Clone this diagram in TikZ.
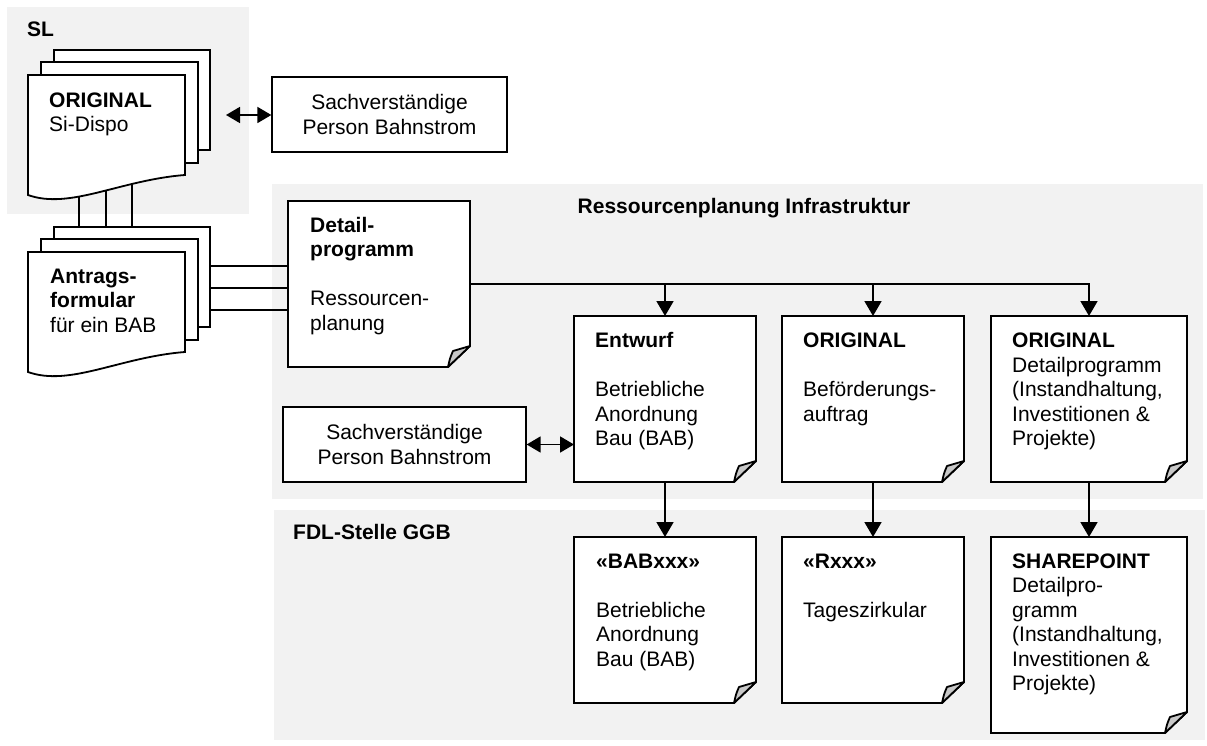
\documentclass[tikz,border=0pt]{standalone}
\usepackage{fontspec}
\setmainfont{Liberation Sans}
\usetikzlibrary{arrows.meta}
\definecolor{panelgray}{RGB}{242,242,242}
\definecolor{foldgray}{RGB}{200,200,200}
\tikzset{
  area/.style={draw=none, inner sep=0pt, outer sep=0pt},
  docline/.style={line width=1.8pt, draw=black, line join=miter},
  conn/.style={line width=1.8pt},
  arr/.style={conn, -{Triangle[length=15pt,width=17pt]}},
  darr/.style={conn, {Triangle[length=14pt,width=16pt]}-{Triangle[length=14pt,width=16pt]}},
  txt/.style={anchor=north west, inner sep=0pt, align=left},
  lbl/.style={anchor=base west, inner sep=0pt, font=\fontsize{21}{24.5}\selectfont\bfseries},
  plainbox/.style={draw, line width=1.3pt, fill=white, align=center, inner sep=0pt},
}
\newcommand\docframe[1]{%
  \draw[docline, fill=white] (#1.north west) -- (#1.north east) -- ([yshift=21pt]#1.south east)
     -- ([xshift=-22pt]#1.south east) -- (#1.south west) -- cycle;
  \draw[docline, fill=foldgray, line join=round] ([xshift=-22pt]#1.south east)
     .. controls ([xshift=-20pt,yshift=9pt]#1.south east) .. ([xshift=-17pt,yshift=16pt]#1.south east)
     -- ([yshift=21pt]#1.south east) -- cycle;}
\newcommand\sheetstack{%
  \draw[docline, fill=white] (54,150) -- (54,50) -- (210,50) -- (210,150) -- cycle;
  \draw[docline, fill=white] (41,163) -- (41,62) -- (198,62) -- (198,163) -- cycle;
  \draw[docline, fill=white] (28,75) -- (185,75) -- (185,175) .. controls (120,180) and (70,210) .. (28,195) -- cycle;}
\begin{document}
\begin{tikzpicture}[x=1pt,y=-1pt, every node/.style={font=\fontsize{21}{24.5}\selectfont}]
\useasboundingbox (0,0) rectangle (1207,746);
% panels
\fill[panelgray] (7,7) rectangle (249,214);
\fill[panelgray] (272,184) rectangle (1203,499);
\fill[panelgray] (274,510) rectangle (1205,740);
\node[lbl] (sl) at (27,37) {SL};
\node[lbl, anchor=base] (rit) at (744,214) {Ressourcenplanung Infrastruktur};
\node[lbl] (fdl) at (293,539) {FDL-Stelle GGB};
% document areas
\node[area, minimum width=182pt, minimum height=166pt] (detail) at (379,284) {};
\node[area, minimum width=182pt, minimum height=166pt] (entw) at (665,399) {};
\node[area, minimum width=182pt, minimum height=166pt] (befo) at (873,399) {};
\node[area, minimum width=196pt, minimum height=166pt] (orig) at (1089,399) {};
\node[area, minimum width=182pt, minimum height=166pt] (bab) at (665,620) {};
\node[area, minimum width=182pt, minimum height=166pt] (rxxx) at (873,620) {};
\node[area, minimum width=196pt, minimum height=196pt] (share) at (1089,635) {};
\node[area, minimum width=157pt, minimum height=120pt] (sidispo) at (106.5,135) {};
\node[area, minimum width=157pt, minimum height=120pt] (antrag) at (106.5,312) {};
\coordinate (antrag2) at (41,239);
\coordinate (antrag3) at (54,227);
% left connectors (drawn under the sheets)
\coordinate (v1) at (79,185);
\coordinate (v2) at (106,185);
\coordinate (v3) at (132,170);
\draw[conn] (v1) -- (v1 |- antrag.north);
\draw[conn] (v2) -- (v2 |- antrag2);
\draw[conn] (v3) -- (v3 |- antrag3);
\coordinate (h1) at (200,266);
\coordinate (h2) at (190,288);
\coordinate (h3) at (175,310);
\draw[conn] (h1) -- (h1 -| detail.west);
\draw[conn] (h2) -- (h2 -| detail.west);
\draw[conn] (h3) -- (h3 -| detail.west);
% sheet stacks
\sheetstack
\begin{scope}[shift={(0,177)}]\sheetstack\end{scope}
\node[txt] (sidispo-t) at ([xshift=21pt,yshift=-14.85pt]sidispo.north west) {\strut\textbf{ORIGINAL}\\Si-Dispo};
\node[txt] (antrag-t) at ([xshift=22pt,yshift=-13.85pt]antrag.north west) {\strut\textbf{Antrags-}\\\textbf{formular}\\für ein BAB};
% plain boxes
\node[plainbox, minimum width=235pt, minimum height=75pt] (sv1) at (389.5,114.5) {Sachverständige\\Person Bahnstrom};
\node[plainbox, minimum width=243pt, minimum height=75pt] (sv2) at (404.5,444.5) {Sachverständige\\Person Bahnstrom};
% document frames
\docframe{detail}
\docframe{entw}
\docframe{befo}
\docframe{orig}
\docframe{bab}
\docframe{rxxx}
\docframe{share}
% texts
\node[txt] (detail-t) at ([xshift=22pt,yshift=-13.85pt]detail.north west) {\strut\textbf{Detail-}\\\textbf{programm}\\[24.5pt]Ressourcen-\\planung};
\node[txt] (entw-t) at ([xshift=21pt,yshift=-14.35pt]entw.north west) {\strut\textbf{Entwurf}\\[24.5pt]Betriebliche\\Anordnung\\Bau (BAB)};
\node[txt] (befo-t) at ([xshift=21pt,yshift=-14.35pt]befo.north west) {\strut\textbf{ORIGINAL}\\[24.5pt]Beförderungs-\\auftrag};
\node[txt] (orig-t) at ([xshift=21pt,yshift=-14.35pt]orig.north west) {\strut\textbf{ORIGINAL}\\Detailprogramm\\(Instandhaltung,\\Investitionen \&\\Projekte)};
\node[txt] (bab-t) at ([xshift=22pt,yshift=-13.85pt]bab.north west) {\strut\textbf{«BABxxx»}\\[24.5pt]Betriebliche\\Anordnung\\Bau (BAB)};
\node[txt] (rxxx-t) at ([xshift=21pt,yshift=-13.85pt]rxxx.north west) {\strut\textbf{«Rxxx»}\\[24.5pt]Tageszirkular};
\node[txt] (share-t) at ([xshift=21pt,yshift=-13.85pt]share.north west) {\strut\textbf{SHAREPOINT}\\Detailpro-\\gramm\\(Instandhaltung,\\Investitionen \&\\Projekte)};
% connectors
\coordinate (sdtip) at (226,115);
\draw[darr] (sdtip) -- (sdtip -| sv1.west);
\draw[darr] (sv2.east) -- (sv2.east -| entw.west);
\draw[arr] (detail.east) -| (orig.north);
\draw[arr] (detail.east -| entw.north) -- (entw.north);
\draw[arr] (detail.east -| befo.north) -- (befo.north);
\draw[arr] (entw.south) -- (bab.north);
\draw[arr] (befo.south) -- (rxxx.north);
\draw[arr] (orig.south) -- (share.north);
\end{tikzpicture}
\end{document}
